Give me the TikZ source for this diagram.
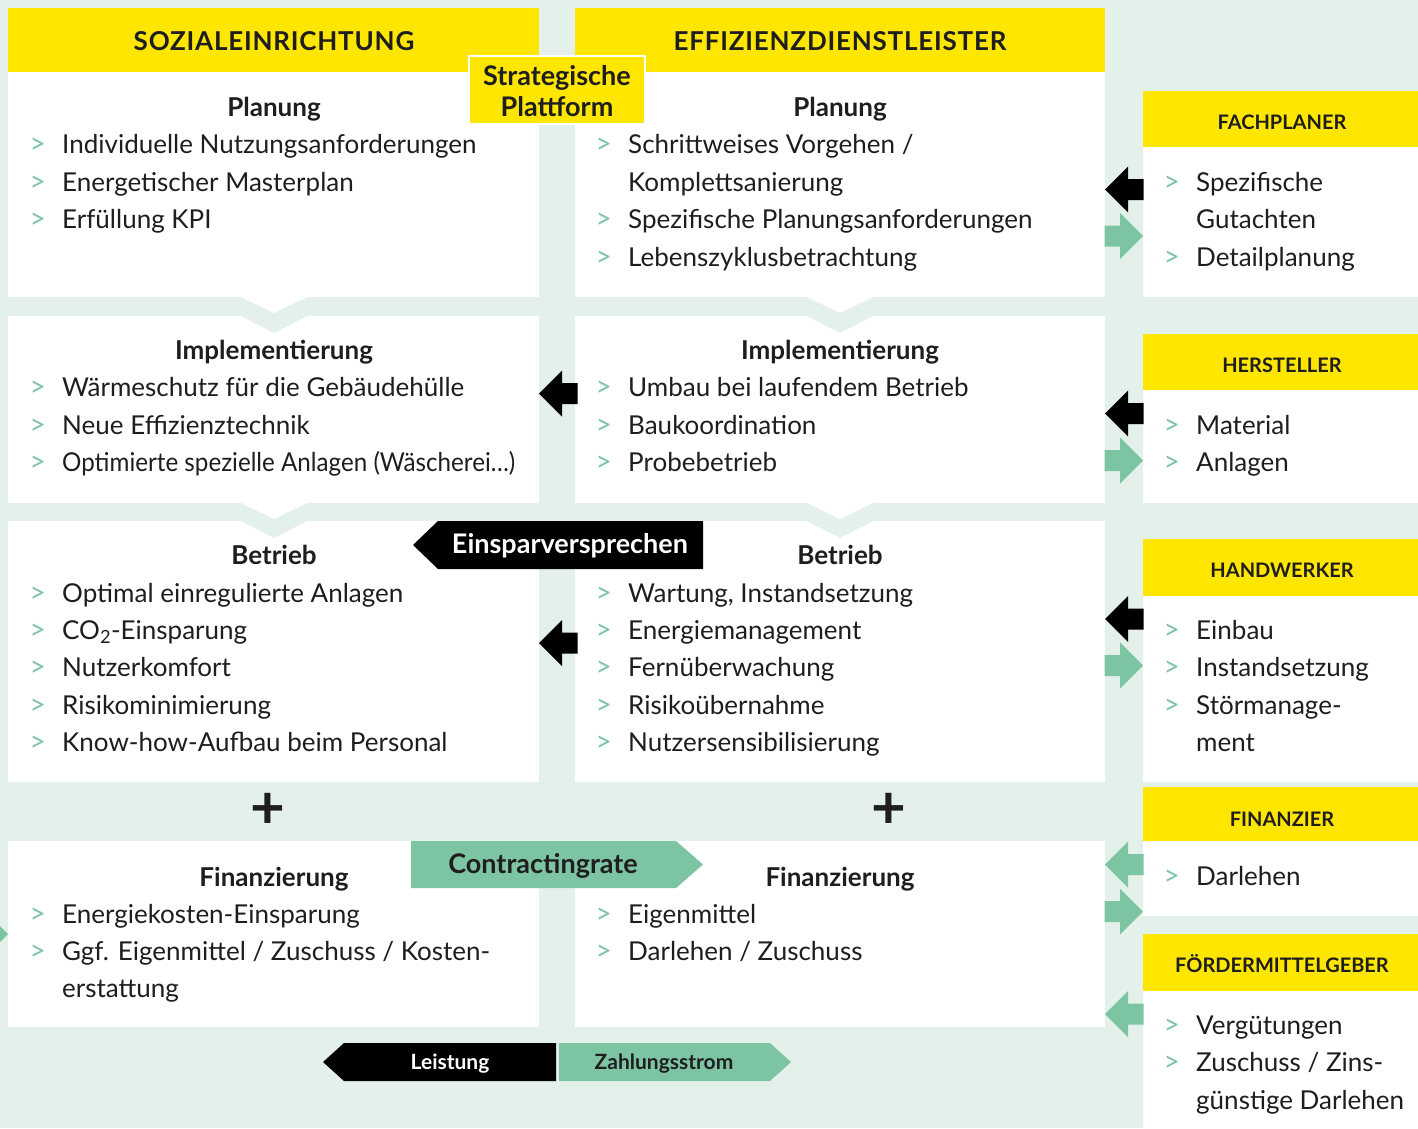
\documentclass[tikz,border=0pt]{standalone}
\usepackage{fontspec}
\setmainfont{Lato}
\definecolor{mint}{HTML}{E3F1EA}
\definecolor{gelb}{HTML}{FFE600}
\definecolor{gruen}{HTML}{7DC4A3}
\definecolor{tinte}{HTML}{1E1E1E}
\tikzset{
	txt/.style={anchor=base west, inner sep=0pt, text=tinte, font=\fontsize{26}{30}\selectfont},
	blt/.style={anchor=base east, inner sep=0pt, text=gruen, font=\fontsize{28}{30}\selectfont},
	ttl/.style={anchor=base, inner sep=0pt, text=tinte, font=\bfseries\fontsize{26}{30}\selectfont},
	hdr/.style={anchor=base, inner sep=0pt, text=tinte, font=\bfseries\fontsize{26}{30}\selectfont\addfontfeatures{LetterSpace=3}},
	shdr/.style={anchor=base, inner sep=0pt, text=tinte, font=\bfseries\fontsize{20}{24}\selectfont},
	lbl/.style={anchor=base, inner sep=0pt, font=\bfseries\fontsize{27}{30}\selectfont},
	leg/.style={anchor=base, inner sep=0pt, font=\bfseries\fontsize{21}{26}\selectfont}
}
% Aufzaehlungszeile mit gruenem Pfeil
\newcommand\bline[4]{%
	\node[txt] (#1) at (#2,#3) {#4};
	\node[blt] (#1m) at ([xshift=-16pt]#1.base west) {>};}
% Blockpfeile (Spitze x, Mitte y, Farbe)
\newcommand\pfeilL[3]{\fill[#3] (#1,#2) -- ++(23,-23) -- ++(0,12.5) -- ++(15.5,0) -- ++(0,21) -- ++(-15.5,0) -- ++(0,12.5) -- cycle;}
\newcommand\pfeilR[3]{\fill[#3] (#1,#2) -- ++(-23,-23) -- ++(0,12.5) -- ++(-15.5,0) -- ++(0,21) -- ++(15.5,0) -- ++(0,12.5) -- cycle;}
\begin{document}
\begin{tikzpicture}[x=1pt,y=-1pt]
	% Hintergrund
	\fill[mint] (0,0) rectangle (1418,1128);
	\useasboundingbox (0,0) rectangle (1418,1128);
	
	% Hauptspalten
	\foreach \xa/\xb/\xc in {8/539/274, 575/1105/840}
	{
		\fill[gelb] (\xa,8) rectangle (\xb,72);
		\fill[white] (\xa,72) rectangle (\xb,297);
		\fill[white] (\xa,316) rectangle (\xb,503);
		\fill[white] (\xa,521) rectangle (\xb,782);
		\fill[white] (\xa,841) rectangle (\xb,1027);
		\foreach \ya/\yb in {297/316, 503/521}
		{
			\fill[white] (\xc-33,\ya) -- (\xc,\ya+16) -- (\xc+33,\ya) -- cycle;
			\fill[mint] (\xc-33,\yb) -- (\xc,\yb+17) -- (\xc+33,\yb) -- cycle;
		}
	}
	
	% Partner rechts
	\foreach \ya/\yb/\yc in {91/147/297, 334/390/503, 539/596/782, 787/841/916, 934/991/1128}
	{
		\fill[gelb] (1143,\ya) rectangle (1418,\yb);
		\fill[white] (1143,\yb) rectangle (1418,\yc);
	}
	
	% Kopfzeilen
	\node[hdr] (sozial) at (274,50) {SOZIALEINRICHTUNG};
	\node[hdr] (effizienz) at (840,50) {EFFIZIENZDIENSTLEISTER};
	\filldraw[fill=gelb, draw=white, line width=1.5pt] (469,56) rectangle (645,124);
	\node[lbl, text=tinte] (strat) at (557,85) {Strategische};
	\node[lbl, text=tinte] (platt) at (557,116.5) {Plattform};
	
	% Planung
	\node[ttl] (spT) at (274,116) {Planung};
	\bline{sp1}{62}{153}{Individuelle Nutzungsanforderungen}
	\bline{sp2}{62}{191}{Energetischer Masterplan}
	\bline{sp3}{62}{228}{Erfüllung KPI}
	\node[ttl] (epT) at (840,116) {Planung};
	\bline{ep1}{628}{153}{Schrittweises Vorgehen /}
	\node[txt] (ep1b) at (628,191) {Komplettsanierung};
	\bline{ep2}{628}{228}{Spezifische Planungsanforderungen}
	\bline{ep3}{628}{266}{Lebenszyklusbetrachtung}
	
	% Implementierung
	\node[ttl] (siT) at (274,359) {Implementierung};
	\bline{si1}{62}{396}{Wärmeschutz für die Gebäudehülle}
	\bline{si2}{62}{434}{Neue Effizienztechnik}
	\bline{si3}{62}{471}{\scalebox{0.93}[1]{Optimierte spezielle Anlagen (Wäscherei…)}}
	\node[ttl] (eiT) at (840,359) {Implementierung};
	\bline{ei1}{628}{396}{Umbau bei laufendem Betrieb}
	\bline{ei2}{628}{434}{Baukoordination}
	\bline{ei3}{628}{471}{Probebetrieb}
	
	% Betrieb
	\node[ttl] (sbT) at (274,564) {Betrieb};
	\bline{sb1}{62}{602}{Optimal einregulierte Anlagen}
	\bline{sb2}{62}{639}{CO\textsubscript{2}-Einsparung}
	\bline{sb3}{62}{676}{Nutzerkomfort}
	\bline{sb4}{62}{714}{Risikominimierung}
	\bline{sb5}{62}{751}{Know-how-Aufbau beim Personal}
	\node[ttl] (ebT) at (840,564) {Betrieb};
	\bline{eb1}{628}{602}{Wartung, Instandsetzung}
	\bline{eb2}{628}{639}{Energiemanagement}
	\bline{eb3}{628}{676}{Fernüberwachung}
	\bline{eb4}{628}{714}{Risikoübernahme}
	\bline{eb5}{628}{751}{Nutzersensibilisierung}
	
	% Finanzierung
	\node[ttl] (sfT) at (274,886) {Finanzierung};
	\bline{sf1}{62}{923}{Energiekosten-Einsparung}
	\bline{sf2}{62}{960}{Ggf. Eigenmittel / Zuschuss / Kosten-}
	\node[txt] (sf2b) at (62,997) {erstattung};
	\node[ttl] (efT) at (840,886) {Finanzierung};
	\bline{ef1}{628}{923}{Eigenmittel}
	\bline{ef2}{628}{960}{Darlehen / Zuschuss};
	
	% Plus
	\node[ttl, anchor=center, font=\bfseries\fontsize{60}{60}\selectfont] (plusL) at (268,811) {+};
	\node[ttl, anchor=center, font=\bfseries\fontsize{60}{60}\selectfont] (plusR) at (889,811) {+};
	
	% Partner
	\node[shdr] (fach) at (1282,129) {FACHPLANER};
	\bline{fp1}{1196}{191}{Spezifische}
	\node[txt] (fp1b) at (1196,228) {Gutachten};
	\bline{fp2}{1196}{266}{Detailplanung}
	\node[shdr] (herst) at (1282,372) {HERSTELLER};
	\bline{hs1}{1196}{434}{Material}
	\bline{hs2}{1196}{471}{Anlagen}
	\node[shdr] (handw) at (1282,577) {HANDWERKER};
	\bline{hw1}{1196}{639}{Einbau}
	\bline{hw2}{1196}{676}{Instandsetzung}
	\bline{hw3}{1196}{714}{Störmanage-}
	\node[txt] (hw3b) at (1196,751) {ment};
	\node[shdr] (finanz) at (1282,826) {FINANZIER};
	\bline{fz1}{1196}{885}{Darlehen}
	\node[shdr] (foerder) at (1282,972) {FÖRDERMITTELGEBER};
	\bline{fm1}{1196}{1034}{Vergütungen}
	\bline{fm2}{1196}{1071}{Zuschuss / Zins-}
	\node[txt] (fm2b) at (1196,1109) {günstige Darlehen};
	
	% Leistungs- und Zahlungspfeile
	\pfeilL{1105}{189.5}{black}
	\pfeilR{1143}{236}{gruen}
	\pfeilL{1105}{413.5}{black}
	\pfeilR{1143}{460.5}{gruen}
	\pfeilL{1105}{619}{black}
	\pfeilR{1143}{665.5}{gruen}
	\pfeilL{1105}{864.5}{gruen}
	\pfeilR{1143}{911.5}{gruen}
	\pfeilL{1105}{1014}{gruen}
	\pfeilL{539}{393.5}{black}
	\pfeilL{539}{643}{black}
	\pfeilR{8}{934}{gruen}
	
	% Einsparversprechen und Contractingrate
	\fill[black] (413,545) -- (438,521) -- (703,521) -- (703,569) -- (438,569) -- cycle;
	\node[lbl, text=white] (spar) at (570,553) {Einsparversprechen};
	\fill[gruen] (411,841) -- (676,841) -- (703,864.5) -- (676,888) -- (411,888) -- cycle;
	\node[lbl, text=tinte] (rate) at (543,873) {Contractingrate};
	
	% Legende
	\fill[black] (323,1062) -- (344,1043) -- (556,1043) -- (556,1081) -- (344,1081) -- cycle;
	\node[leg, text=white] (leist) at (450,1069) {Leistung};
	\fill[gruen] (559,1043) -- (770,1043) -- (791,1062) -- (770,1081) -- (559,1081) -- cycle;
	\node[leg, text=tinte] (zahl) at (664,1069) {Zahlungsstrom};
\end{tikzpicture}
\end{document}
